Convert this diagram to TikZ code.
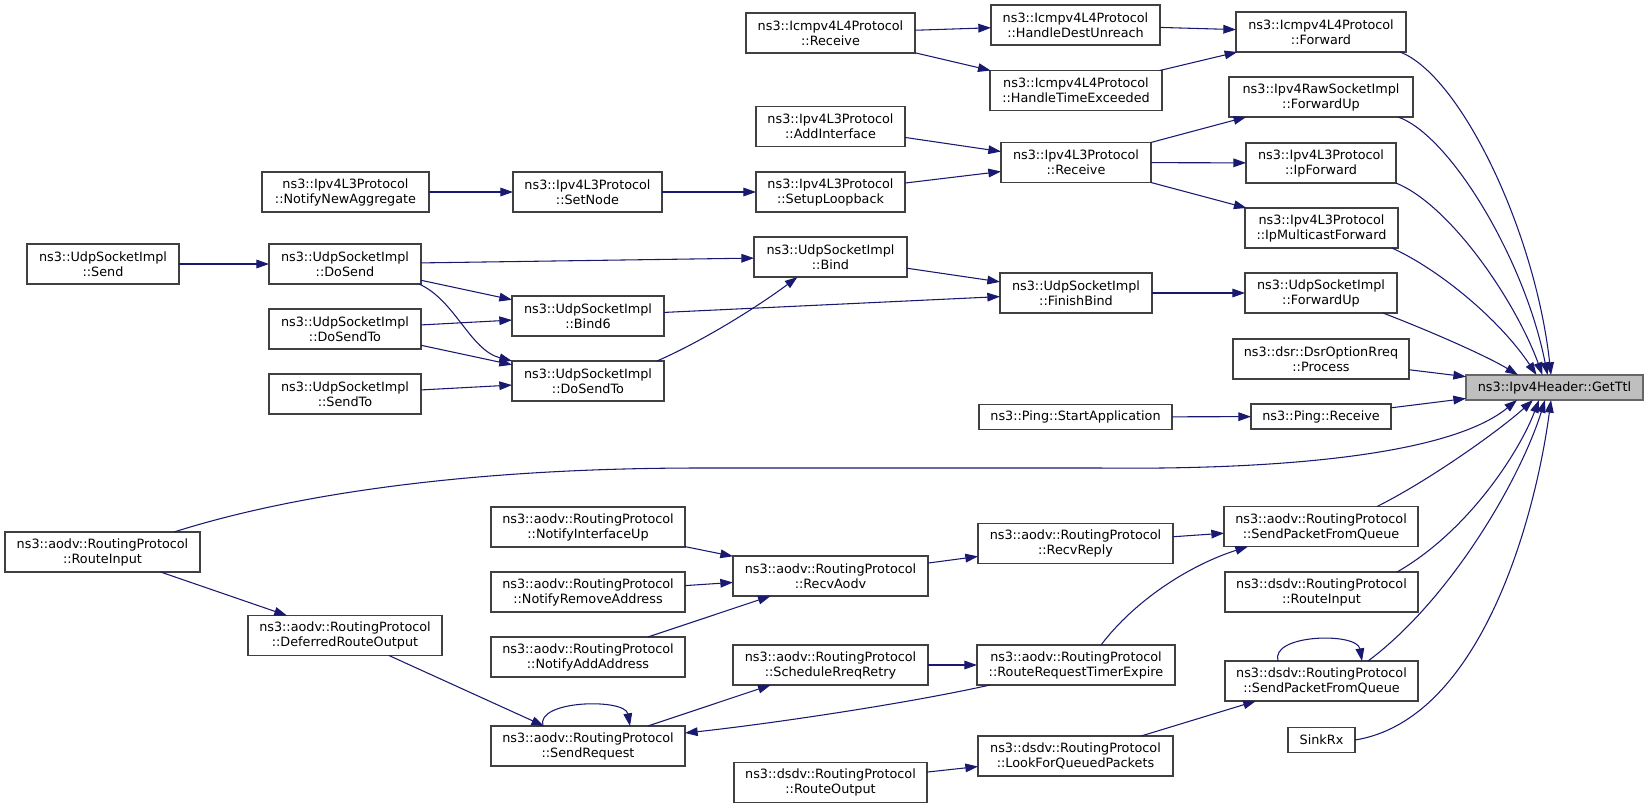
\documentclass[tikz,border=0pt]{standalone}
\usepackage{fontspec}
\setmainfont{DejaVu Sans}
\usetikzlibrary{arrows.meta,calc}
\definecolor{edgec}{HTML}{191970}
\definecolor{boxc}{HTML}{404040}
\definecolor{gfill}{HTML}{BFBFBF}
\definecolor{gdraw}{HTML}{666666}
\begin{document}
\begin{tikzpicture}[x=0.75pt,y=-0.75pt,
  bx/.style={draw=boxc,line width=0.9pt,fill=white,inner sep=0pt,outer sep=0pt,align=center,font=\fontsize{9.6}{11.25}\selectfont},
  wh/.style 2 args={minimum width=#1*0.75pt,minimum height=#2*0.75pt},
  edge/.style={draw=edgec,line width=0.8pt,-{Triangle[length=9.5pt,width=6.5pt]}}]
\useasboundingbox (0,0) rectangle (1648,808);

% column 1
\node[bx,wh={177}{25},fill=gfill,draw=gdraw] (getttl) at (1554.5,387.5) {ns3::Ipv4Header::GetTtl};
% column 2
\node[bx,wh={170}{40}] (icmpfwd) at (1321,32) {ns3::Icmpv4L4Protocol\\::Forward};
\node[bx,wh={184}{40}] (rawfwd) at (1321,97) {ns3::Ipv4RawSocketImpl\\::ForwardUp};
\node[bx,wh={150}{40}] (ipfwd) at (1321,163) {ns3::Ipv4L3Protocol\\::IpForward};
\node[bx,wh={153}{40}] (ipmfwd) at (1321.5,228) {ns3::Ipv4L3Protocol\\::IpMulticastForward};
\node[bx,wh={152}{40}] (udpfwd) at (1321,293) {ns3::UdpSocketImpl\\::ForwardUp};
\node[bx,wh={176}{40}] (dsrproc) at (1321,359) {ns3::dsr::DsrOptionRreq\\::Process};
\node[bx,wh={140}{25}] (pingrecv) at (1321,416.5) {ns3::Ping::Receive};
\node[bx,wh={194}{40}] (aodvspfq) at (1321,526.5) {ns3::aodv::RoutingProtocol\\::SendPacketFromQueue};
\node[bx,wh={193}{40}] (dsdvri) at (1321.5,592) {ns3::dsdv::RoutingProtocol\\::RouteInput};
\node[bx,wh={193}{40}] (dsdvspfq) at (1321.5,681) {ns3::dsdv::RoutingProtocol\\::SendPacketFromQueue};
\node[bx,wh={67}{25}] (sinkrx) at (1321.5,740) {SinkRx};
% column 3
\node[bx,wh={169}{40}] (handledest) at (1075.5,25) {ns3::Icmpv4L4Protocol\\::HandleDestUnreach};
\node[bx,wh={172}{40}] (handletime) at (1076,90.5) {ns3::Icmpv4L4Protocol\\::HandleTimeExceeded};
\node[bx,wh={150}{40}] (ipv4recv) at (1076,162.5) {ns3::Ipv4L3Protocol\\::Receive};
\node[bx,wh={152}{40}] (finishbind) at (1076,293) {ns3::UdpSocketImpl\\::FinishBind};
\node[bx,wh={193}{25}] (startapp) at (1075.5,417) {ns3::Ping::StartApplication};
\node[bx,wh={195}{40}] (recvreply) at (1075.5,543.5) {ns3::aodv::RoutingProtocol\\::RecvReply};
\node[bx,wh={198}{40}] (rrte) at (1076,665) {ns3::aodv::RoutingProtocol\\::RouteRequestTimerExpire};
\node[bx,wh={195}{40}] (lfqp) at (1075.5,756) {ns3::dsdv::RoutingProtocol\\::LookForQueuedPackets};
% column 4
\node[bx,wh={169}{40}] (icmprecv) at (830.5,33) {ns3::Icmpv4L4Protocol\\::Receive};
\node[bx,wh={149}{40}] (addif) at (830.5,126.5) {ns3::Ipv4L3Protocol\\::AddInterface};
\node[bx,wh={149}{40}] (setuploop) at (830.5,192) {ns3::Ipv4L3Protocol\\::SetupLoopback};
\node[bx,wh={153}{40}] (bind) at (830.5,257) {ns3::UdpSocketImpl\\::Bind};
\node[bx,wh={195}{40}] (recvaodv) at (830.5,576) {ns3::aodv::RoutingProtocol\\::RecvAodv};
\node[bx,wh={195}{40}] (schedrreq) at (830.5,665) {ns3::aodv::RoutingProtocol\\::ScheduleRreqRetry};
\node[bx,wh={193}{40}] (dsdvro) at (830.5,782.5) {ns3::dsdv::RoutingProtocol\\::RouteOutput};
% column 5
\node[bx,wh={149}{40}] (setnode) at (587.5,192) {ns3::Ipv4L3Protocol\\::SetNode};
\node[bx,wh={152}{40}] (bind6) at (588,316) {ns3::UdpSocketImpl\\::Bind6};
\node[bx,wh={152}{40}] (dosendtob) at (588,381) {ns3::UdpSocketImpl\\::DoSendTo};
\node[bx,wh={194}{40}] (notifyifup) at (588,527) {ns3::aodv::RoutingProtocol\\::NotifyInterfaceUp};
\node[bx,wh={194}{40}] (notifyrm) at (588,592) {ns3::aodv::RoutingProtocol\\::NotifyRemoveAddress};
\node[bx,wh={194}{40}] (notifyadd) at (588,657) {ns3::aodv::RoutingProtocol\\::NotifyAddAddress};
\node[bx,wh={194}{40}] (sendreq) at (588,746) {ns3::aodv::RoutingProtocol\\::SendRequest};
% column 6
\node[bx,wh={167}{40}] (nna) at (345.5,192) {ns3::Ipv4L3Protocol\\::NotifyNewAggregate};
\node[bx,wh={152}{40}] (dosend) at (345,264) {ns3::UdpSocketImpl\\::DoSend};
\node[bx,wh={152}{40}] (dosendtoa) at (345,329) {ns3::UdpSocketImpl\\::DoSendTo};
\node[bx,wh={152}{40}] (sendto) at (345,394) {ns3::UdpSocketImpl\\::SendTo};
\node[bx,wh={194}{40}] (deferred) at (345,635.5) {ns3::aodv::RoutingProtocol\\::DeferredRouteOutput};
% column 7
\node[bx,wh={152}{40}] (send) at (103,264) {ns3::UdpSocketImpl\\::Send};
\node[bx,wh={195}{40}] (routeinput) at (102.5,552) {ns3::aodv::RoutingProtocol\\::RouteInput};

% straight edges
\draw[edge] (icmprecv) -- (handledest);
\draw[edge] (icmprecv) -- (handletime);
\draw[edge] (handledest) -- (icmpfwd);
\draw[edge] (handletime) -- (icmpfwd);
\draw[edge] (addif) -- (ipv4recv);
\draw[edge] (setuploop) -- (ipv4recv);
\draw[edge] (nna) -- (setnode);
\draw[edge] (setnode) -- (setuploop);
\draw[edge] (ipv4recv) -- (rawfwd);
\draw[edge] (ipv4recv) -- (ipfwd);
\draw[edge] (ipv4recv) -- (ipmfwd);
\draw[edge] (send) -- (dosend);
\draw[edge] (dosend) -- (bind);
\draw[edge] (dosend) -- (bind6);
\draw[edge] (dosendtoa) -- (bind6);
\draw[edge] (dosendtoa) -- (dosendtob);
\draw[edge] (sendto) -- (dosendtob);
\draw[edge] (bind) -- (finishbind);
\draw[edge] (bind6) -- (finishbind);
\draw[edge] (finishbind) -- (udpfwd);
\draw[edge] (dsrproc) -- (getttl);
\draw[edge] (pingrecv) -- (getttl);
\draw[edge] (startapp) -- (pingrecv);
\draw[edge] (routeinput) -- (deferred);
\draw[edge] (deferred) -- (sendreq);
\draw[edge] (notifyifup) -- (recvaodv);
\draw[edge] (notifyrm) -- (recvaodv);
\draw[edge] (notifyadd) -- (recvaodv);
\draw[edge] (recvaodv) -- (recvreply);
\draw[edge] (recvreply) -- (aodvspfq);
\draw[edge] (sendreq) -- (schedrreq);
\draw[edge] (schedrreq) -- (rrte);
\draw[edge] (dsdvro) -- (lfqp);
\draw[edge] (lfqp) -- (dsdvspfq);

% curved edges (upper part)
\draw[edge] ($(dosend.south east)+(-2,0)$) .. controls (455,300) and (470,350) .. (dosendtob.north west);
\draw[edge] ($(dosendtob.north east)+(-7,0)$) .. controls (705,340) and (760,305) .. ($(bind.south)+(-33,0)$);

% curved edges into GetTtl (from above)
\draw[edge] ($(icmpfwd.south east)+(-6,0)$) .. controls (1460,75) and (1535,230) .. ($(getttl.north)+(-3.5,0)$);
\draw[edge] ($(rawfwd.south east)+(-15,0)$) .. controls (1450,135) and (1525,260) .. ($(getttl.north)+(-7,0)$);
\draw[edge] (ipfwd.south east) .. controls (1450,205) and (1515,300) .. ($(getttl.north)+(-12,0)$);
\draw[edge] ($(ipmfwd.south east)+(-6,0)$) .. controls (1440,270) and (1500,320) .. ($(getttl.north)+(-18,0)$);
\draw[edge] ($(udpfwd.south east)+(-14,0)$) .. controls (1440,335) and (1490,358) .. ($(getttl.north west)+(52,0)$);

% curved edges into GetTtl (from below)
\draw[edge] ($(routeinput.north)+(71.5,0)$) .. controls (300,492) and (480,468) .. (700,468) -- (1100,468) .. controls (1280,470) and (1450,455) .. ($(getttl.south west)+(51,0)$);
\draw[edge] ($(aodvspfq.north)+(56,0)$) .. controls (1430,480) and (1500,430) .. ($(getttl.south west)+(67,0)$);
\draw[edge] ($(dsdvri.north)+(75.5,0)$) .. controls (1470,530) and (1520,450) .. ($(getttl.south west)+(73,0)$);
\draw[edge] ($(dsdvspfq.north)+(46.5,0)$) .. controls (1450,600) and (1520,480) .. ($(getttl.south west)+(79,0)$);
\draw[edge] (sinkrx.east) .. controls (1480,720) and (1535,520) .. ($(getttl.south west)+(85,0)$);

% lower curved edges
\draw[edge] ($(rrte.north)+(25,0)$) .. controls (1135,600) and (1190,565) .. ($(aodvspfq.south west)+(24,0)$);
\draw[edge] ($(rrte.south west)+(13,0)$) .. controls (900,705) and (760,725) .. ($(sendreq.east)+(0,-13)$);

% self loops
\draw[edge] ($(sendreq.north)+(-45,0)$) .. controls (535,700) and (625,698) .. ($(sendreq.north)+(42,0)$);
\draw[edge] ($(dsdvspfq.north)+(-43.5,0)$) .. controls (1270,634) and (1357,632) .. ($(dsdvspfq.north)+(40.5,0)$);
\end{tikzpicture}
\end{document}
